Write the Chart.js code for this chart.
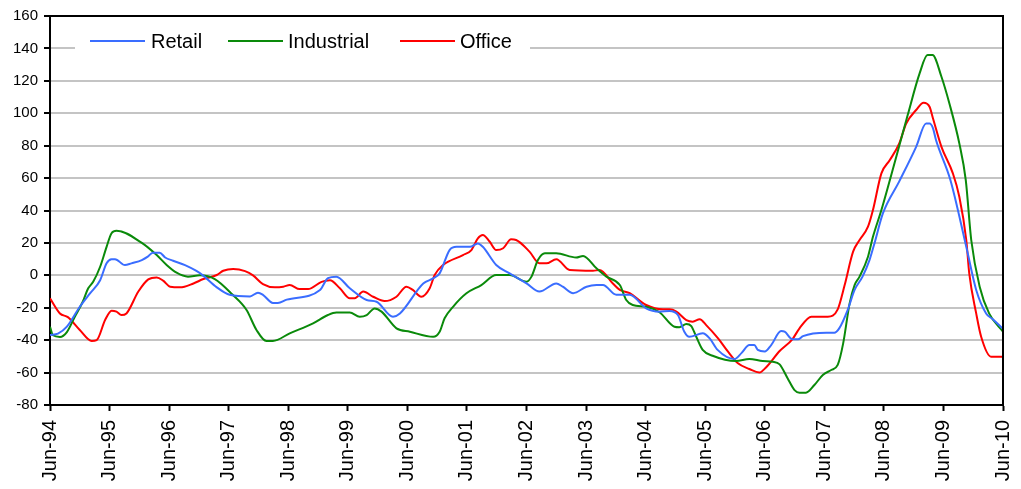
<!DOCTYPE html>
<html>
<head>
<meta charset="utf-8">
<script src="https://cdn.jsdelivr.net/npm/chart.js@4"></script>
<style>
    html, body { margin: 0; padding: 0; background: #fff; }
    #wrap { width: 1021px; height: 489px; }
</style>
</head>
<body>
<div id="wrap"><canvas id="chartRents"></canvas></div>
<script>
// ==================== DATA (months since Jun-94) ====================
const seriesNames = ["Retail", "Industrial", "Office"];
const yTicks = [-80, -60, -40, -20, 0, 20, 40, 60, 80, 100, 120, 140, 160];
const xTickYears = ["94", "95", "96", "97", "98", "99", "00", "01", "02", "03", "04", "05", "06", "07", "08", "09", "10"];

const retailMonths = [0, 1.6, 3.4, 6, 8.1, 10.1, 11.4, 12.4, 13.1, 15.1, 16.4, 18.5, 19.7, 20.7, 22.1, 23.2, 24.8, 27.2, 29.5, 30.8, 33.6, 36.2, 40.3, 41.9, 42.9, 44.9, 45.9, 47.7, 54.4, 56, 57.7, 60.4, 63.8, 65.8, 69.1, 70.5, 75.2, 77.2, 78.5, 80.5, 81.9, 84.6, 86.2, 87.2, 89.9, 92.6, 96, 98.6, 102, 103.3, 105.4, 108.1, 110.1, 111.4, 114.1, 116.8, 120.1, 122.8, 124.8, 126.5, 127.8, 128.8, 131.5, 132.9, 134.5, 137.9, 139.3, 140.9, 141.9, 142.6, 144, 145.3, 147.3, 148, 149.6, 150.7, 151.7, 156.4, 158, 159, 160.7, 162.1, 163.7, 165.1, 166.1, 167.8, 171.1, 174.5, 176.5, 177.2, 177.9, 178.5, 181.4, 184.6, 186.6, 188.6, 189.9, 192];
const retailValues = [-36.8, -36, -31.7, -19.4, -11, -3, 7.5, 10, 10, 6.3, 7.4, 9.4, 11.5, 14, 14, 11, 9, 6.3, 2.7, 0, -7.4, -12, -13, -10.7, -12, -17, -17, -15, -9, -1.7, -0.8, -8, -15.2, -16.3, -25.5, -23.5, -5, -1.9, 1.2, 15.6, 17.6, 17.6, 19.7, 17.6, 6.4, 1.2, -5, -10, -5, -7, -11, -7, -6, -6, -12, -12, -20.4, -22.4, -22, -24.5, -34.8, -37.9, -35.8, -38.9, -46, -51.6, -48, -43, -43, -46, -47, -43, -34.4, -34.8, -39.5, -39.5, -37.5, -35.4, -35.4, -32.7, -21.4, -9, -0.8, 9.4, 19.7, 38.2, 58, 79.3, 93.7, 93.7, 90.7, 83.5, 58.8, 17.6, -9, -23.5, -27, -33];

const industrialMonths = [0, 0.6, 2, 3.4, 5, 6.6, 7.7, 8.7, 10.1, 11.4, 12.4, 13.4, 18.5, 21.5, 23.5, 25.5, 27.8, 30.2, 33.2, 36.8, 39.6, 41.6, 43.6, 44.9, 48.3, 53, 56, 57.7, 60.4, 62.4, 63.8, 65.4, 66.8, 69.8, 72.5, 77.2, 78.5, 79.5, 81.2, 83.9, 86.9, 89.9, 92.6, 96, 97, 98.3, 99.7, 102, 106, 107.4, 110.1, 112.1, 114.8, 116.1, 117.4, 120.1, 122.8, 125.8, 126.8, 128.2, 129.2, 130.2, 131.5, 133.5, 138.2, 140.9, 143.6, 145.6, 147, 148.6, 150, 151, 152.3, 154, 155.7, 157.4, 158.7, 159.8, 161.1, 162.1, 163.1, 164.8, 165.8, 167.5, 170.5, 172.8, 175.2, 176.8, 177.8, 179.6, 181.2, 183.2, 184.5, 185.6, 187.3, 189.2, 192];
const industrialValues = [-31.7, -37, -38, -35, -25.5, -16.3, -8, -4, 5.3, 17.6, 26, 27.5, 20, 12.5, 6.4, 1.6, -0.8, 0, -2.3, -12, -21.4, -33.7, -40.5, -40.5, -35.8, -29.6, -24.5, -23, -23, -25.5, -24.5, -20.4, -22.4, -32.7, -34.8, -37.9, -34.8, -26.5, -19.4, -11.1, -6, 0.2, 0.2, -3.9, -0.8, 9.4, 13.6, 13.6, 11, 12, 4.3, -0.8, -6, -15.2, -18.3, -19.4, -22.8, -31.7, -32, -30, -31.3, -37.9, -46, -49.6, -52.9, -51.6, -52.9, -53.3, -54.9, -63.5, -70.8, -72.4, -72.4, -67.7, -61.5, -58.4, -55.3, -42, -17.3, -6, -0.8, 11.5, 23.8, 40.3, 73.2, 98.9, 124.6, 135.9, 135.9, 122.5, 106, 81.4, 58.8, 21.8, -7, -23.5, -34.8];

const officeMonths = [0, 2, 3.6, 6, 8.4, 9.4, 11.1, 12.4, 13.4, 14.4, 15.4, 17.8, 19.8, 21.5, 22.8, 24.2, 26.2, 28.9, 30.9, 33.6, 34.9, 36.9, 39.3, 40.9, 42.9, 45.3, 47, 48.3, 50.3, 52, 54.7, 56.4, 58.4, 60.4, 61.4, 63.1, 65.1, 67.4, 69.8, 71.8, 73.1, 74.8, 76.5, 77.5, 79.2, 83.2, 84.9, 86.2, 87.2, 88.6, 89.9, 91.3, 92.9, 93.9, 96.6, 98.6, 100, 102, 104.7, 109.4, 110.7, 113.4, 114.8, 116.8, 120.1, 123.5, 124.8, 126.2, 128.2, 129.5, 130.9, 132.2, 134.6, 136.6, 138.6, 140.9, 142.9, 144.3, 147, 149.6, 151, 153.4, 156.7, 158.7, 160.1, 161.8, 163.1, 164.8, 165.8, 167.5, 169.2, 171.1, 172.5, 174.5, 176, 177.2, 177.9, 179.6, 181.9, 183.2, 184.6, 185.2, 186.6, 187.6, 189.6, 192];
const officeValues = [-14.2, -23.5, -25.8, -33.7, -40.5, -40, -27.6, -21.8, -22.4, -24.5, -23.5, -10, -2.5, -1.3, -3.3, -7, -7.4, -5, -2.3, 0.2, 2.8, 3.9, 2.6, 0, -5.4, -7.4, -7, -6, -8.5, -8.5, -4, -3, -8, -14.2, -14.2, -10, -13.2, -15.9, -13.2, -7, -9, -13.2, -8, 0.2, 6.4, 12.5, 15.6, 22.8, 24.9, 20.7, 15.6, 16.7, 22.2, 21.8, 14.6, 7.4, 7.4, 9.9, 3.3, 2.8, 3.3, -5, -9, -11, -18.3, -21, -21, -22.4, -27.6, -28.6, -27.1, -30.7, -38.9, -47.1, -54.3, -57.8, -60, -56.7, -46.7, -39.3, -32.7, -25.5, -25.5, -21, -6, 14.6, 21.8, 30, 40.3, 62.9, 71.1, 81.4, 93.7, 102, 106.5, 104, 96.8, 79.3, 62.9, 48.5, 21.8, 1.2, -23.5, -37.9, -50.2, -50.2];

const seriesColors = ["#3a6dff", "#0a8a0a", "#ff0000"];

function toPoints(months, values) {
    return months.map((m, i) => ({ x: m, y: values[i] }));
}

// ==================== PLUGIN: khung + legend ====================
const khungVaChuGiai = {
    id: "khungVaChuGiai",
    afterDraw(chart) {
        const { ctx, chartArea } = chart;
        ctx.save();
        // top + right border
        ctx.strokeStyle = "#000";
        ctx.lineWidth = 2;
        ctx.beginPath();
        ctx.moveTo(chartArea.left, chartArea.top);
        ctx.lineTo(chartArea.right, chartArea.top);
        ctx.lineTo(chartArea.right, chartArea.bottom);
        ctx.stroke();

        // legend box
        ctx.fillStyle = "#fff";
        ctx.fillRect(75, 26, 455, 30);
        const items = [
            { x1: 90, x2: 145, tx: 151 },
            { x1: 228, x2: 283, tx: 288 },
            { x1: 400, x2: 455, tx: 460 }
        ];
        ctx.font = "20px 'Liberation Sans', Arial, sans-serif";
        ctx.textBaseline = "middle";
        chart.data.datasets.forEach((ds, i) => {
            const it = items[i];
            ctx.strokeStyle = ds.borderColor;
            ctx.lineWidth = 2;
            ctx.beginPath();
            ctx.moveTo(it.x1, 41);
            ctx.lineTo(it.x2, 41);
            ctx.stroke();
            ctx.fillStyle = "#000";
            ctx.fillText(ds.label, it.tx, 42);
        });
        ctx.restore();
    }
};

// ==================== VẼ BIỂU ĐỒ ====================
const datasets = [
    toPoints(retailMonths, retailValues),
    toPoints(industrialMonths, industrialValues),
    toPoints(officeMonths, officeValues)
].map((pts, i) => ({
    label: seriesNames[i],
    data: pts,
    borderColor: seriesColors[i],
    backgroundColor: seriesColors[i],
    borderWidth: 2,
    pointRadius: 0,
    fill: false,
    cubicInterpolationMode: "monotone"
}));

new Chart(document.getElementById("chartRents"), {
    type: "line",
    data: { datasets: datasets },
    options: {
        responsive: true,
        maintainAspectRatio: false,
        animation: false,
        layout: { padding: { top: 16, right: 18, left: 0, bottom: 0 } },
        plugins: {
            legend: { display: false },
            tooltip: { enabled: false }
        },
        scales: {
            x: {
                type: "linear",
                min: 0,
                max: 192,
                afterFit: scale => {
                    scale.height = 84;
                    scale.paddingLeft = 0;
                    scale.paddingRight = 0;
                },
                afterBuildTicks: scale => {
                    scale.ticks = xTickYears.map((y, i) => ({ value: i * 12 }));
                },
                grid: {
                    drawOnChartArea: false,
                    drawTicks: true,
                    tickLength: 6,
                    tickColor: "#000",
                    tickWidth: 2
                },
                border: { color: "#000", width: 2 },
                ticks: {
                    autoSkip: false,
                    maxRotation: 90,
                    minRotation: 90,
                    padding: 9,
                    color: "#000",
                    font: { family: "'Liberation Sans', Arial, sans-serif", size: 20 },
                    callback: value => "Jun-" + xTickYears[Math.round(value / 12)]
                }
            },
            y: {
                min: -80,
                max: 160,
                afterFit: scale => {
                    scale.width = 50;
                    scale.paddingTop = 0;
                    scale.paddingBottom = 0;
                },
                afterBuildTicks: scale => {
                    scale.ticks = yTicks.map(v => ({ value: v }));
                },
                grid: {
                    color: "#c4c4c4",
                    lineWidth: 2,
                    drawTicks: true,
                    tickLength: 6,
                    tickColor: "#000",
                    tickWidth: 2
                },
                border: { color: "#000", width: 2 },
                ticks: {
                    padding: 6,
                    color: "#000",
                    font: { family: "'Liberation Sans', Arial, sans-serif", size: 15 }
                }
            }
        }
    },
    plugins: [khungVaChuGiai]
});
</script>
</body>
</html>
